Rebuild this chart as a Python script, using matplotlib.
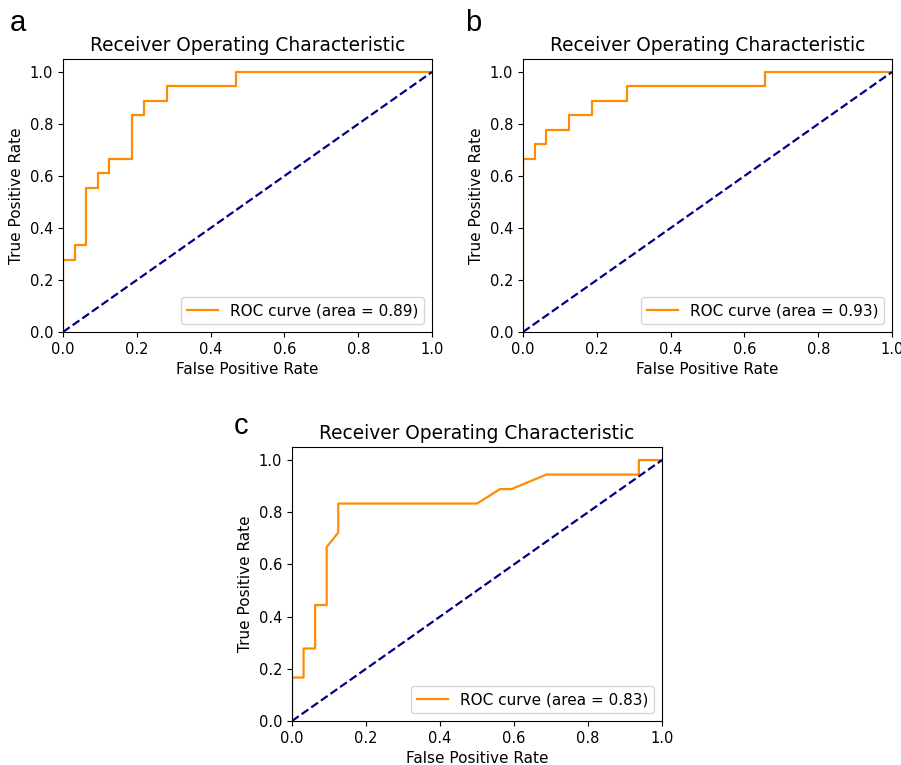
import numpy as np
import matplotlib
matplotlib.use("Agg")
import matplotlib.pyplot as plt

# ROC curves (fpr steps of 1/32, tpr steps of 1/18)
fpr_a = [0, 0, 1/32, 1/32, 2/32, 2/32, 3/32, 3/32, 4/32, 4/32, 6/32, 6/32, 7/32, 7/32, 9/32, 9/32, 15/32, 15/32, 1]
tpr_a = [0, 5/18, 5/18, 6/18, 6/18, 10/18, 10/18, 11/18, 11/18, 12/18, 12/18, 15/18, 15/18, 16/18, 16/18, 17/18, 17/18, 1, 1]
auc_a = 0.89

fpr_b = [0, 0, 1/32, 1/32, 2/32, 2/32, 4/32, 4/32, 6/32, 6/32, 9/32, 9/32, 21/32, 21/32, 1]
tpr_b = [0, 12/18, 12/18, 13/18, 13/18, 14/18, 14/18, 15/18, 15/18, 16/18, 16/18, 17/18, 17/18, 1, 1]
auc_b = 0.93

fpr_c = [0, 0, 1/32, 1/32, 2/32, 2/32, 3/32, 3/32, 4/32, 4/32, 16/32, 18/32, 19/32, 22/32, 30/32, 30/32, 1]
tpr_c = [0, 3/18, 3/18, 5/18, 5/18, 8/18, 8/18, 12/18, 13/18, 15/18, 15/18, 16/18, 16/18, 17/18, 17/18, 1, 1]
auc_c = 0.83

W, H = 901, 765
fig = plt.figure(figsize=(W/100, H/100), dpi=100)

def px_axes(left, top, right, bottom):
    return fig.add_axes([left/W, 1 - bottom/H, (right-left)/W, (bottom-top)/H])

def roc_panel(ax, fpr, tpr, auc):
    ax.plot(fpr, tpr, color='darkorange', lw=1.6,
            label='ROC curve (area = %0.2f)' % auc)
    ax.plot([0, 1], [0, 1], color='navy', lw=1.6, linestyle='--')
    ax.set_xlim([0.0, 1.0])
    ax.set_ylim([0.0, 1.05])
    ax.set_xticks(np.arange(0, 1.01, 0.2))
    ax.set_yticks(np.arange(0, 1.01, 0.2))
    ax.tick_params(labelsize=10.5)
    ax.set_xlabel('False Positive Rate', fontsize=11)
    ax.set_ylabel('True Positive Rate', fontsize=11)
    ax.set_title('Receiver Operating Characteristic', fontsize=13.4)
    ax.legend(loc='lower right', fontsize=11)

ax1 = px_axes(63, 59, 432, 332)
ax2 = px_axes(523, 59, 892, 332)
ax3 = px_axes(292, 447, 662, 721)

roc_panel(ax1, fpr_a, tpr_a, auc_a)
roc_panel(ax2, fpr_b, tpr_b, auc_b)
roc_panel(ax3, fpr_c, tpr_c, auc_c)

for letter, x, y in [('a', 10, 31), ('b', 465, 31), ('c', 234, 434)]:
    fig.text(x/W, 1 - y/H, letter, fontsize=21, family='Liberation Sans',
             ha='left', va='baseline')

fig.savefig('out.png', dpi=100)
